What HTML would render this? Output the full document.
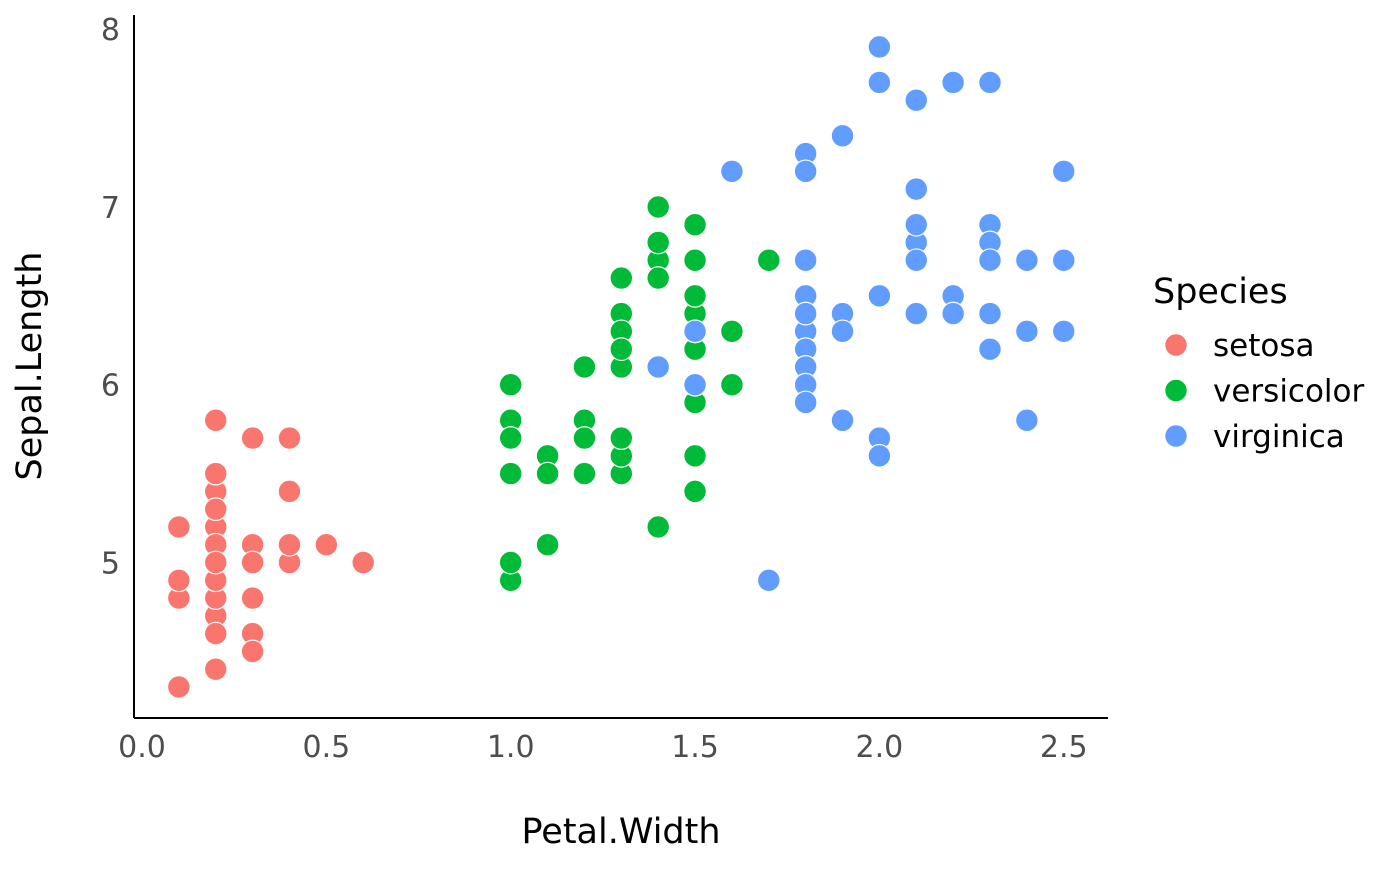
<!DOCTYPE html>
<html><head><meta charset="utf-8"><style>
body{margin:0;background:#fff;}
svg text{font-family:"DejaVu Sans","Liberation Sans",sans-serif;}
</style></head><body>
<svg id="chart" width="1400" height="866" xmlns="http://www.w3.org/2000/svg">
<g id="points"></g>
<line x1="134" y1="15" x2="134" y2="718" stroke="#000" stroke-width="2"/>
<line x1="134" y1="718" x2="1108" y2="718" stroke="#000" stroke-width="2"/>
<g id="xticks"></g>
<g id="yticks"></g>
<text x="621" y="843" font-size="35" text-anchor="middle" fill="#000">Petal.Width</text>
<text transform="translate(41,366) rotate(-90)" font-size="35" text-anchor="middle" fill="#000">Sepal.Length</text>
<g>
<text x="1153" y="303" font-size="35" fill="#000">Species</text>
<g id="legend-items"></g>
</g>
</svg>
<script>
const species = ["setosa","versicolor","virginica"];
const colors = ["#F8766D","#00BA38","#619CFF"];
const xTicks = [0.0,0.5,1.0,1.5,2.0,2.5];
const xTickLabels = ["0.0","0.5","1.0","1.5","2.0","2.5"];
const yTicks = [5,6,7,8];
const yTickLabels = ["5","6","7","8"];
const setosaSL = [5.1,4.9,4.7,4.6,5.0,5.4,4.6,5.0,4.4,4.9,5.4,4.8,4.8,4.3,5.8,5.7,5.4,5.1,5.7,5.1,5.4,5.1,4.6,5.1,4.8,5.0,5.0,5.2,5.2,4.7,4.8,5.4,5.2,5.5,4.9,5.0,5.5,4.9,4.4,5.1,5.0,4.5,4.4,5.0,5.1,4.8,5.1,4.6,5.3,5.0];
const setosaPW = [0.2,0.2,0.2,0.2,0.2,0.4,0.3,0.2,0.2,0.1,0.2,0.2,0.1,0.1,0.2,0.4,0.4,0.3,0.3,0.3,0.2,0.4,0.2,0.5,0.2,0.2,0.4,0.2,0.2,0.2,0.2,0.4,0.1,0.2,0.2,0.2,0.2,0.1,0.2,0.2,0.3,0.3,0.2,0.6,0.4,0.3,0.2,0.2,0.2,0.2];
const versicolorSL = [7.0,6.4,6.9,5.5,6.5,5.7,6.3,4.9,6.6,5.2,5.0,5.9,6.0,6.1,5.6,6.7,5.6,5.8,6.2,5.6,5.9,6.1,6.3,6.1,6.4,6.6,6.8,6.7,6.0,5.7,5.5,5.5,5.8,6.0,5.4,6.0,6.7,6.3,5.6,5.5,5.5,6.1,5.8,5.0,5.6,5.7,5.7,6.2,5.1,5.7];
const versicolorPW = [1.4,1.5,1.5,1.3,1.5,1.3,1.6,1.0,1.3,1.4,1.0,1.5,1.0,1.4,1.3,1.4,1.5,1.0,1.5,1.1,1.8,1.3,1.5,1.2,1.3,1.4,1.4,1.7,1.5,1.0,1.1,1.0,1.2,1.6,1.5,1.6,1.5,1.3,1.3,1.3,1.2,1.4,1.2,1.0,1.3,1.2,1.3,1.3,1.1,1.3];
const virginicaSL = [6.3,5.8,7.1,6.3,6.5,7.6,4.9,7.3,6.7,7.2,6.5,6.4,6.8,5.7,5.8,6.4,6.5,7.7,7.7,6.0,6.9,5.6,7.7,6.3,6.7,7.2,6.2,6.1,6.4,7.2,7.4,7.9,6.4,6.3,6.1,7.7,6.3,6.4,6.0,6.9,6.7,6.9,5.8,6.8,6.7,6.7,6.3,6.5,6.2,5.9];
const virginicaPW = [2.5,1.9,2.1,1.8,2.2,2.1,1.7,1.8,1.8,2.5,2.0,1.9,2.1,2.0,2.4,2.3,1.8,2.2,2.3,1.5,2.3,2.0,2.0,1.8,2.1,1.8,1.8,1.8,2.1,1.6,1.9,2.0,2.2,1.5,1.4,2.3,2.4,1.8,1.8,2.1,2.4,2.3,1.9,2.3,2.5,2.3,1.9,2.0,2.3,1.8];

const NS="http://www.w3.org/2000/svg";
const xScale = v => 142 + 368.7*v;
const yScale = v => 562.5 - (v-5)*177.8;
function mk(tag, attrs, parent){const e=document.createElementNS(NS,tag);for(const k in attrs)e.setAttribute(k,attrs[k]);parent.appendChild(e);return e;}

const pts=document.getElementById('points');
const series=[[setosaPW,setosaSL],[versicolorPW,versicolorSL],[virginicaPW,virginicaSL]];
series.forEach((s,si)=>{
  s[0].forEach((pw,i)=>{
    const c=mk('circle',{cx:xScale(pw),cy:yScale(s[1][i]),r:11.3,fill:colors[si],stroke:'#fff','stroke-width':1.2},pts);
    
    
  });
});
const xt=document.getElementById('xticks');
xTicks.forEach((v,i)=>{
  const t=mk('text',{x:xScale(v),y:757,'font-size':30,'text-anchor':'middle',fill:'#4d4d4d'},xt);
  t.textContent=xTickLabels[i];
  
  
});
const yt=document.getElementById('yticks');
yTicks.forEach((v,i)=>{
  const t=mk('text',{x:120,y:yScale(v)+11,'font-size':30,'text-anchor':'end',fill:'#4d4d4d'},yt);
  t.textContent=yTickLabels[i];
  
  
});
const lg=document.getElementById('legend-items');
species.forEach((s,i)=>{
  const y=345+i*45.5;
  const c=mk('circle',{cx:1176,cy:y,r:11.3,fill:colors[i],stroke:'#fff','stroke-width':1.2},lg);
  
  
  const t=mk('text',{x:1213,y:y+11,'font-size':31,fill:'#000'},lg);
  t.textContent=s;
  
  
});
</script>
</body></html>
